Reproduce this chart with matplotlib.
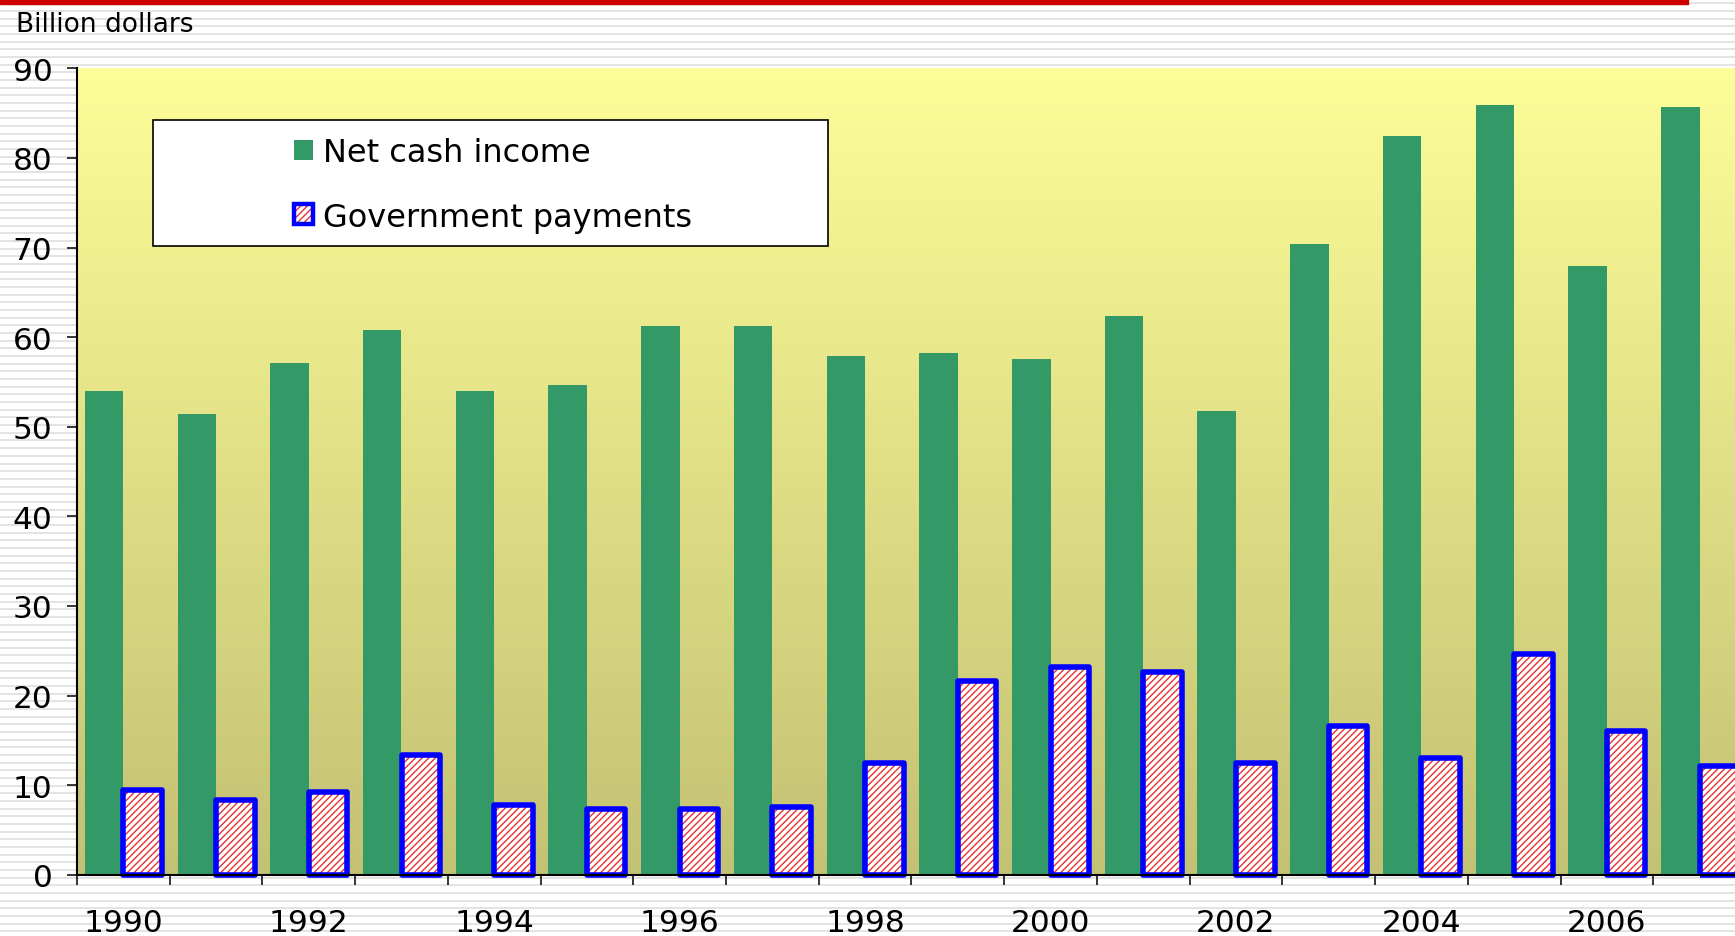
import numpy as np
import matplotlib
matplotlib.use("Agg")
import matplotlib.pyplot as plt
from matplotlib.patches import Patch, Rectangle
from matplotlib.legend_handler import HandlerTuple

years = list(range(1990, 2008))
net_cash_income = [54.0, 51.4, 57.1, 60.8, 54.0, 54.6, 61.2, 61.2, 57.9, 58.2,
                   57.6, 62.3, 51.7, 70.4, 82.4, 85.9, 67.9, 85.7]
government_payments = [9.4, 8.3, 9.2, 13.4, 7.8, 7.3, 7.3, 7.6, 12.5, 21.6,
                       23.2, 22.6, 12.5, 16.6, 13.0, 24.6, 16.0, 12.1]
year_labels = [str(y) if y % 2 == 0 else "" for y in years]
y_ticks = list(range(0, 100, 10))

W, H = 1735, 937
plt.rcParams['font.family'] = ['DejaVu Sans']
plt.rcParams['hatch.linewidth'] = 1.0

fig = plt.figure(figsize=(W / 100, H / 100), dpi=100)
fig.patch.set_facecolor("white")

# striped page background
bg = fig.add_axes([0, 0, 1, 1], zorder=0)
bg.set_xlim(0, W)
bg.set_ylim(H, 0)
bg.axis("off")
stripe_y = np.arange(4.3, H, 7.67)
bg.hlines(stripe_y, 0, W, colors="#e0e0e0", linewidth=1.3)
bg.axhspan(0, 5, xmin=0, xmax=1688 / W, color="#cc0000", zorder=3)

# plot area geometry (pixels)
ax_left, ax_top, ax_zero = 77, 69.3, 875.7
cat_w = 92.72
ax_w = cat_w * len(years)
pos = [ax_left / W, (H - ax_zero) / H, ax_w / W, (ax_zero - ax_top) / H]

# gradient fill of plot area
grad_ax = fig.add_axes(pos, zorder=1)
top_c = np.array([253, 253, 153]) / 255
bot_c = np.array([195, 193, 115]) / 255
t = np.linspace(0, 1, 256)[:, None]
grad = top_c[None, :] * (1 - t) + bot_c[None, :] * t
grad_ax.imshow(grad[:, None, :], aspect="auto", extent=[0, 1, 0, 1])
grad_ax.axis("off")

ax = fig.add_axes(pos, zorder=2)
ax.patch.set_alpha(0)

x = np.arange(len(years))
bw = 0.415
off = 0.208
ax.bar(x - off, net_cash_income, width=bw, color="#339966", zorder=2,
       linewidth=0)
ax.bar(x + off, government_payments, width=bw, facecolor="white",
       edgecolor="#e83030", hatch="/////", linewidth=0, zorder=2)
ax.bar(x + off, government_payments, width=bw, fill=False,
       edgecolor="#0000ff", linewidth=4.0, zorder=3,
       joinstyle="round", clip_on=False)

ax.set_xlim(-0.5, len(years) - 0.5)
ax.set_ylim(0, 90)
ax.set_yticks(y_ticks)
ax.set_yticklabels([str(v) for v in y_ticks])
ax.set_xticks(x)
ax.set_xticklabels(year_labels)
ax.set_xticks(np.arange(-0.5, len(years), 1.0), minor=True)

for s in ("top", "right"):
    ax.spines[s].set_visible(False)
for s in ("left", "bottom"):
    ax.spines[s].set_linewidth(1.5)
    ax.spines[s].set_zorder(10)

ax.tick_params(axis="y", direction="out", length=7.2, width=1.1,
               labelsize=22.5, pad=10.5)
ax.tick_params(axis="x", which="major", length=0, labelsize=22.5, pad=24)
ax.tick_params(axis="x", which="minor", direction="out", length=7.5,
               width=1.1)

# legend box
lx0 = (152.7 - ax_left) / ax_w
lx1 = (827.5 - ax_left) / ax_w
ly1 = 1 - (120.7 - ax_top) / (ax_zero - ax_top)
ly0 = 1 - (246.7 - ax_top) / (ax_zero - ax_top)
ax.add_patch(Rectangle((lx0, ly0), lx1 - lx0, ly1 - ly0, transform=ax.transAxes,
                       facecolor="white", edgecolor="black", linewidth=1.2,
                       zorder=20))
h1 = Patch(facecolor="#339966", edgecolor="none")
h2a = Patch(facecolor="white", edgecolor="#e83030", hatch="/////", linewidth=0)
h2b = Patch(fill=False, edgecolor="#0000ff", linewidth=3.2, joinstyle="round")
leg = ax.legend([h1, (h2a, h2b)], ["Net cash income", "Government payments"],
                handler_map={tuple: HandlerTuple(ndivide=1, pad=0)},
                loc="upper left",
                bbox_to_anchor=((294 - ax_left) / ax_w,
                                1 - (138 - ax_top) / (ax_zero - ax_top)),
                frameon=False, fontsize=23, handlelength=0.6,
                handleheight=0.6, handletextpad=0.3, labelspacing=1.05,
                borderpad=0, borderaxespad=0)
leg.set_zorder(21)

fig.text(16 / W, 1 - 32.5 / H, "Billion dollars", fontsize=19,
         ha="left", va="baseline")

fig.savefig("out.png", dpi=100)
